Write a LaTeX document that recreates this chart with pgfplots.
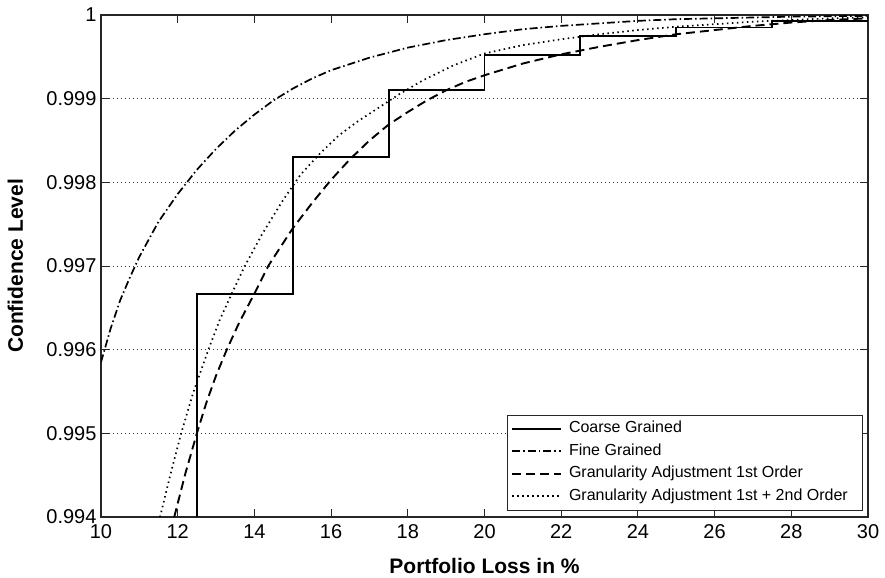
\documentclass[border=0pt]{standalone}
\usepackage{fontspec}
\setmainfont{Liberation Sans}
\usepackage{pgfplots}
\pgfplotsset{compat=1.18}
\begin{document}
\begin{tikzpicture}
\begin{axis}[
  scale only axis,
  width=767bp, height=502bp,
  xmin=10, xmax=30, ymin=0.994, ymax=1,
  xtick={10,12,...,30},
  ytick={0.994,0.995,0.996,0.997,0.998,0.999,1},
  yticklabels={0.994,0.995,0.996,0.997,0.998,0.999,1},
  scaled y ticks=false,
  /pgf/number format/assume math mode=true,
  tick align=inside,
  major tick length=8bp,
  tick style={line width=0.9bp, black!85},
  axis line style={line width=1.1bp, black!85},
  ymajorgrids=true,
  major grid style={line width=0.9bp, black!80, dash pattern=on 1bp off 3bp},
  ticklabel style={font=\fontsize{20bp}{24bp}\selectfont},
  xticklabel style={yshift=-4bp},
  yticklabel style={xshift=-1bp},
  xlabel={\textbf{Portfolio Loss in \%}},
  ylabel={\textbf{Confidence Level}},
  label style={font=\fontsize{21bp}{25bp}\selectfont},
  xlabel style={at={(axis description cs:0.5,-0.1135)}, anchor=base},
  ylabel style={at={(axis description cs:-0.1017,0.5)}, anchor=base, rotate=0},
  legend cell align=left,
  legend image code/.code={\draw[#1] (0bp,0bp) -- (49bp,0bp);},
  legend image post style={line width=1.7bp},
  legend style={at={(1,0)}, anchor=south east, xshift=-6bp, yshift=7bp,
    draw=black!85, inner sep=4bp, row sep=3.5bp, column sep=4bp,
    font=\fontsize{16bp}{19bp}\selectfont,
    nodes={inner xsep=3bp, inner ysep=2bp, text height=11.5bp, text depth=3.5bp}},
]
\addplot[black, line width=1.9bp] coordinates {
(12.5,0.994) (12.5,0.99667) (15,0.99667) (15,0.99830) (17.5,0.99830)
(17.5,0.99910) (20,0.99910) (20,0.99952) (22.5,0.99952) (22.5,0.99975)
(25,0.99975) (25,0.99985) (27.5,0.99985) (27.5,0.99993) (30,0.99993)};
\addlegendentry{Coarse Grained}
\addplot[black, line width=1.7bp, dash pattern=on 8bp off 3bp on 1.5bp off 3bp] coordinates {
(10.0,0.99585) (10.25,0.99625) (10.5,0.99659) (10.75,0.99686) (11.0,0.99711)
(11.5,0.99753) (12.0,0.99786) (12.5,0.99815) (13.0,0.99840) (13.5,0.99862)
(14.0,0.99881) (14.5,0.99898) (15.0,0.99912) (15.5,0.99924) (16.0,0.99934)
(17.0,0.99949) (18.0,0.99961) (19.0,0.99970) (20.0,0.99977) (21.0,0.99983)
(22.0,0.99987) (23.0,0.99990) (24.0,0.99993) (25.0,0.99995) (26.0,0.99996)
(27.0,0.99997) (28.0,0.99998) (30.0,0.99999)};
\addlegendentry{Fine Grained}
\addplot[black, line width=1.9bp, dash pattern=on 9bp off 5bp] coordinates {
(11.91,0.99400) (12.2,0.99452) (12.5,0.99500) (12.75,0.99537) (13.0,0.99569)
(13.28,0.99600) (13.6,0.99632) (14.0,0.99667) (14.36,0.99700) (14.7,0.99724)
(15.0,0.99745) (15.5,0.99775) (16.0,0.99803) (16.5,0.99828) (17.0,0.99850)
(17.5,0.99869) (18.0,0.99884) (18.5,0.99898) (19.0,0.99910) (19.5,0.99920)
(20.0,0.99928) (21.0,0.99942) (22.0,0.99953) (23.0,0.99962) (24.0,0.99970)
(25.0,0.99977) (26.0,0.99982) (27.0,0.99987) (28.0,0.99991) (29.0,0.99994)
(30.0,0.99996)};
\addlegendentry{Granularity Adjustment 1st Order}
\addplot[black, line width=1.7bp, dash pattern=on 1.5bp off 3.5bp] coordinates {
(11.54,0.99400) (11.8,0.99449) (12.09,0.99500) (12.4,0.99548) (12.8,0.99600)
(13.1,0.99636) (13.41,0.99667) (13.75,0.99700) (14.2,0.99738) (14.75,0.99779)
(15.2,0.99809) (15.7,0.99834) (16.2,0.99856) (16.7,0.99873) (17.2,0.99888)
(17.8,0.99906) (18.4,0.99922) (19.2,0.99940) (20.0,0.99954) (21.0,0.99964)
(22.0,0.99971) (23.0,0.99977) (24.0,0.99982) (25.0,0.99986) (26.0,0.99989)
(27.0,0.99992) (28.0,0.99994) (29.0,0.99996) (30.0,0.99997)};
\addlegendentry{Granularity Adjustment 1st + 2nd Order\hspace*{7bp}}
\end{axis}
\pgfresetboundingbox
\path[use as bounding box] ([xshift=-101bp,yshift=-61bp]current axis.south west) rectangle ++(885bp,578bp);
\end{tikzpicture}
\end{document}
